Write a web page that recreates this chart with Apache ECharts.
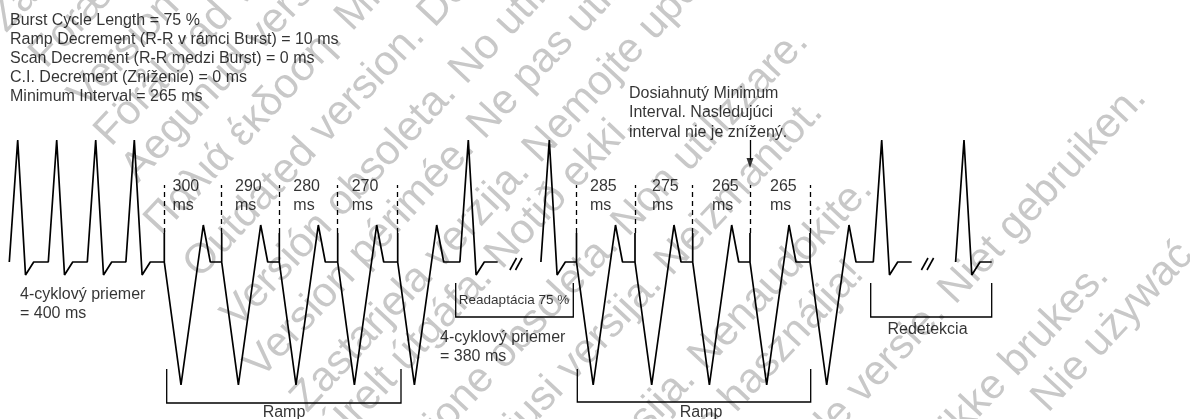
<!DOCTYPE html>
<html>
<head>
<meta charset="utf-8">
<script src="https://cdn.jsdelivr.net/npm/echarts@6/dist/echarts.min.js"></script>
<style>
html,body{margin:0;padding:0;background:#fff;}
#c{width:1190px;height:419px;}
</style>
</head>
<body>
<div id="c"></div>
<script>
// ---------------- data (x = time in figure units, y = level in figure units, larger = lower) -------------
const BASE = 262;            // isoelectric baseline
const SPIKE_TOP = 233;       // top of a pacing spike
const MARK_TOP = 185;        // top of the dashed interval marker

// beat morphologies: [dx from beat reference, level]
const sinusShape = [[-8.4, 262], [0, 140], [7.8, 275], [16, 262]];
const pacedShape = [[0, 262], [0, 233], [0, 262], [16.7, 385], [39, 225], [46, 262]];

// segment A: sinus rhythm -> ramp 1 -> sinus, then break
const segA_sinus1 = [17.7, 56.7, 95.7, 134.3];
const segA_ramp   = [164.3, 221.7, 279.3, 337.7, 397.7];
const segA_sinus2 = [468.3];
const segA_end    = 497.7;
// segment B: sinus -> ramp 2 -> sinus, then break
const segB_sinus1 = [549.3];
const segB_ramp   = [576.5, 635, 692.7, 750, 810];
const segB_sinus2 = [881.7];
const segB_end    = 911.7;
// segment C: sinus
const segC_sinus  = [964];
const segC_end    = 991.7;

// ramp interval labels (ms)
const rampIntervalsA = ['300', '290', '280', '270'];
const rampIntervalsB = ['285', '275', '265', '265'];
const rampLabelXA = [172.5, 235, 293.3, 351.7];
const rampLabelXB = [590, 652, 712, 770];

// texts
const settingsText = [
  'Burst Cycle Length = 75 %',
  'Ramp Decrement (R-R v rámci Burst) = 10 ms',
  'Scan Decrement (R-R medzi Burst) = 0 ms',
  'C.I. Decrement (Zníženie) = 0 ms',
  'Minimum Interval = 265 ms'
];
const noteText = ['Dosiahnutý Minimum', 'Interval. Nasledujúci', 'interval nie je znížený.'];
const avgText1 = ['4-cyklový priemer', '= 400 ms'];
const avgText2 = ['4-cyklový priemer', '= 380 ms'];

// brackets: [label, left, right, top, bottom]
const brackets = [
  ['Ramp', 166.7, 401, 369, 403],
  ['Ramp', 577.3, 810.7, 369, 402],
  ['Readaptácia 75 %', 455.7, 573.3, 283, 317],
  ['Redetekcia', 870.7, 991.7, 283, 317]
];
const breakCenters = [516, 927.5];

// watermark lines: [text, prefix before anchor, anchorX, anchorY]
const watermark = [
  ['Zastaraná verzia. Nepoužívať.', '', 13, 40],
  ['Forældet version. Må ikke anvendes.', '', 53, 76],
  ['Version überholt. Nicht verwenden.', '', 92, 116],
  ['Föråldrad version. Använd ej.', '', 118, 154],
  ['Aegunud versioon. Ärge kasutage.', '', 145, 190],
  ['Παλιά έκδοση. Μην την χρησιμοποιείτε.', '', 168, 243],
  ['Outdated version. Do not use.', '', 207, 286],
  ['Versión obsoleta. No utilizar.', '', 245, 336],
  ['Version périmée. Ne pas utiliser.', '', 268, 386],
  ['Zastarjela verzija. Nemojte upotrebljavati.', '', 314, 420],
  ['Úrelt útgáfa. Notið ekki.', 'Úr', 375, 420],
  ['Versione obsoleta. Non utilizzare.', 'Versio', 471, 420],
  ['Novecojusi versija. Neizmantot.', 'Novecoju', 551, 420],
  ['Pasenusi versija. Nenaudokite.', 'Pasenusi versija. ', 712, 378],
  ['Elavult verzió. Ne használja!', 'Elavult verzió. Ne ', 743, 420],
  ['Verouderde versie. Niet gebruiken.', 'Verouderde versie. ', 962, 312],
  ['Utdatert versjon. Skal ikke brukes.', 'Utdatert versjon. Skal ik', 985, 425],
  ['Wersja przeterminowana. Nie używać.', 'Wersja przeterminowana. ', 1055, 420]
];

// ---------------- build -------------
const FONT = '"Liberation Sans", Arial, Helvetica, sans-serif';
const mctx = document.createElement('canvas').getContext('2d');

function beats(xs, shape) {
  const pts = [];
  xs.forEach(x => shape.forEach(([dx, y]) => pts.push([x + dx, y])));
  return pts;
}
const waveA = [...beats(segA_sinus1, sinusShape), ...beats(segA_ramp, pacedShape), ...beats(segA_sinus2, sinusShape), [segA_end, BASE]];
const waveB = [...beats(segB_sinus1, sinusShape), ...beats(segB_ramp, pacedShape), ...beats(segB_sinus2, sinusShape), [segB_end, BASE]];
const waveC = [...beats(segC_sinus, sinusShape), [segC_end, BASE]];

const waveStyle = {color: '#000', width: 1.7};
function waveSeries(data) {
  return {type: 'line', data, showSymbol: false, symbol: 'none', lineStyle: waveStyle,
          silent: true, animation: false, z: 3, clip: false};
}

const markerData = [...segA_ramp, ...segB_ramp].map(s => ({coords: [[s, SPIKE_TOP], [s, MARK_TOP]]}));
const bracketData = brackets.map(([, l, r, t, b]) => ({coords: [[l, t], [l, b], [r, b], [r, t]]}));
const breakData = [];
breakCenters.forEach(cx => {
  [-2.8, 2.8].forEach(o => breakData.push({coords: [[cx + o - 3.3, 270], [cx + o + 3.3, 258]]}));
});

function txt(text, x, y, opt) {
  opt = opt || {};
  return {
    value: [x, y],
    label: {
      show: true, position: 'inside', formatter: () => text,
      align: opt.a || 'left', verticalAlign: opt.v || 'top',
      fontSize: opt.fs || 16, lineHeight: opt.lh || 19, color: '#000', fontFamily: FONT
    }
  };
}
const textData = [
  txt(settingsText.join('\n'), 10, 11.5, {lh: 19}),
  txt(noteText.join('\n'), 629, 83.5, {lh: 19.5}),
  txt(avgText1.join('\n'), 20, 285.5, {lh: 18.5}),
  txt(avgText2.join('\n'), 440, 328.5, {lh: 19}),
];
brackets.forEach(([label, l, r, t, b], i) => {
  if (label === 'Ramp') textData.push(txt(label, i === 0 ? 284 : 701, 413, {a: 'center', v: 'middle'}));
});
textData.push(txt('Readaptácia 75 %', 514, 300, {a: 'center', v: 'middle', fs: 13.5}));
textData.push(txt('Redetekcia', 927.5, 330, {a: 'center', v: 'middle'}));
rampIntervalsA.forEach((v, i) => textData.push(txt(v + '\nms', rampLabelXA[i], 177.5, {lh: 18.5})));
rampIntervalsB.forEach((v, i) => textData.push(txt(v + '\nms', rampLabelXB[i], 177.5, {lh: 18.5})));

// watermark graphics
const ang = 47 * Math.PI / 180;
const WM_FONT = '42px "Liberation Sans", Arial, sans-serif';
mctx.font = WM_FONT;
const wmGraphics = watermark.map(([text, prefix, ax, ay]) => {
  const w = prefix ? mctx.measureText(prefix).width : 0;
  return {
    type: 'text', x: ax - w * Math.cos(ang), y: ay + w * Math.sin(ang), rotation: ang,
    silent: true, z: 0,
    style: {text, font: WM_FONT, fill: '#c8c8c8', textAlign: 'left', textVerticalAlign: 'bottom'}
  };
});

const chart = echarts.init(document.getElementById('c'));
chart.setOption({
  animation: false,
  backgroundColor: '#fff',
  grid: {left: 0, right: 0, top: 0, bottom: 0},
  xAxis: {type: 'value', min: 0, max: 1190, show: false},
  yAxis: {type: 'value', min: 0, max: 419, inverse: true, show: false},
  graphic: wmGraphics,
  series: [
    waveSeries(waveA),
    waveSeries(waveB),
    waveSeries(waveC),
    {type: 'lines', coordinateSystem: 'cartesian2d', data: markerData, silent: true, z: 3,
     lineStyle: {color: '#000', width: 1.3, opacity: 1, type: [5, 4]}},
    {type: 'lines', coordinateSystem: 'cartesian2d', polyline: true, data: bracketData, silent: true, z: 3,
     lineStyle: {color: '#000', width: 1.3, opacity: 1}},
    {type: 'lines', coordinateSystem: 'cartesian2d', data: breakData, silent: true, z: 3,
     lineStyle: {color: '#000', width: 1.6, opacity: 1}},
    {type: 'lines', coordinateSystem: 'cartesian2d', data: [{coords: [[750, 140], [750, 160]]}], silent: true, z: 3,
     lineStyle: {color: '#000', width: 1.3, opacity: 1}},
    {type: 'scatter', data: [[750, 163]], symbol: 'triangle', symbolSize: [7, 10], symbolRotate: 180,
     itemStyle: {color: '#000'}, silent: true, z: 4},
    {type: 'scatter', data: textData, symbolSize: 0, silent: true, z: 5}
  ]
});
</script>
</body>
</html>
